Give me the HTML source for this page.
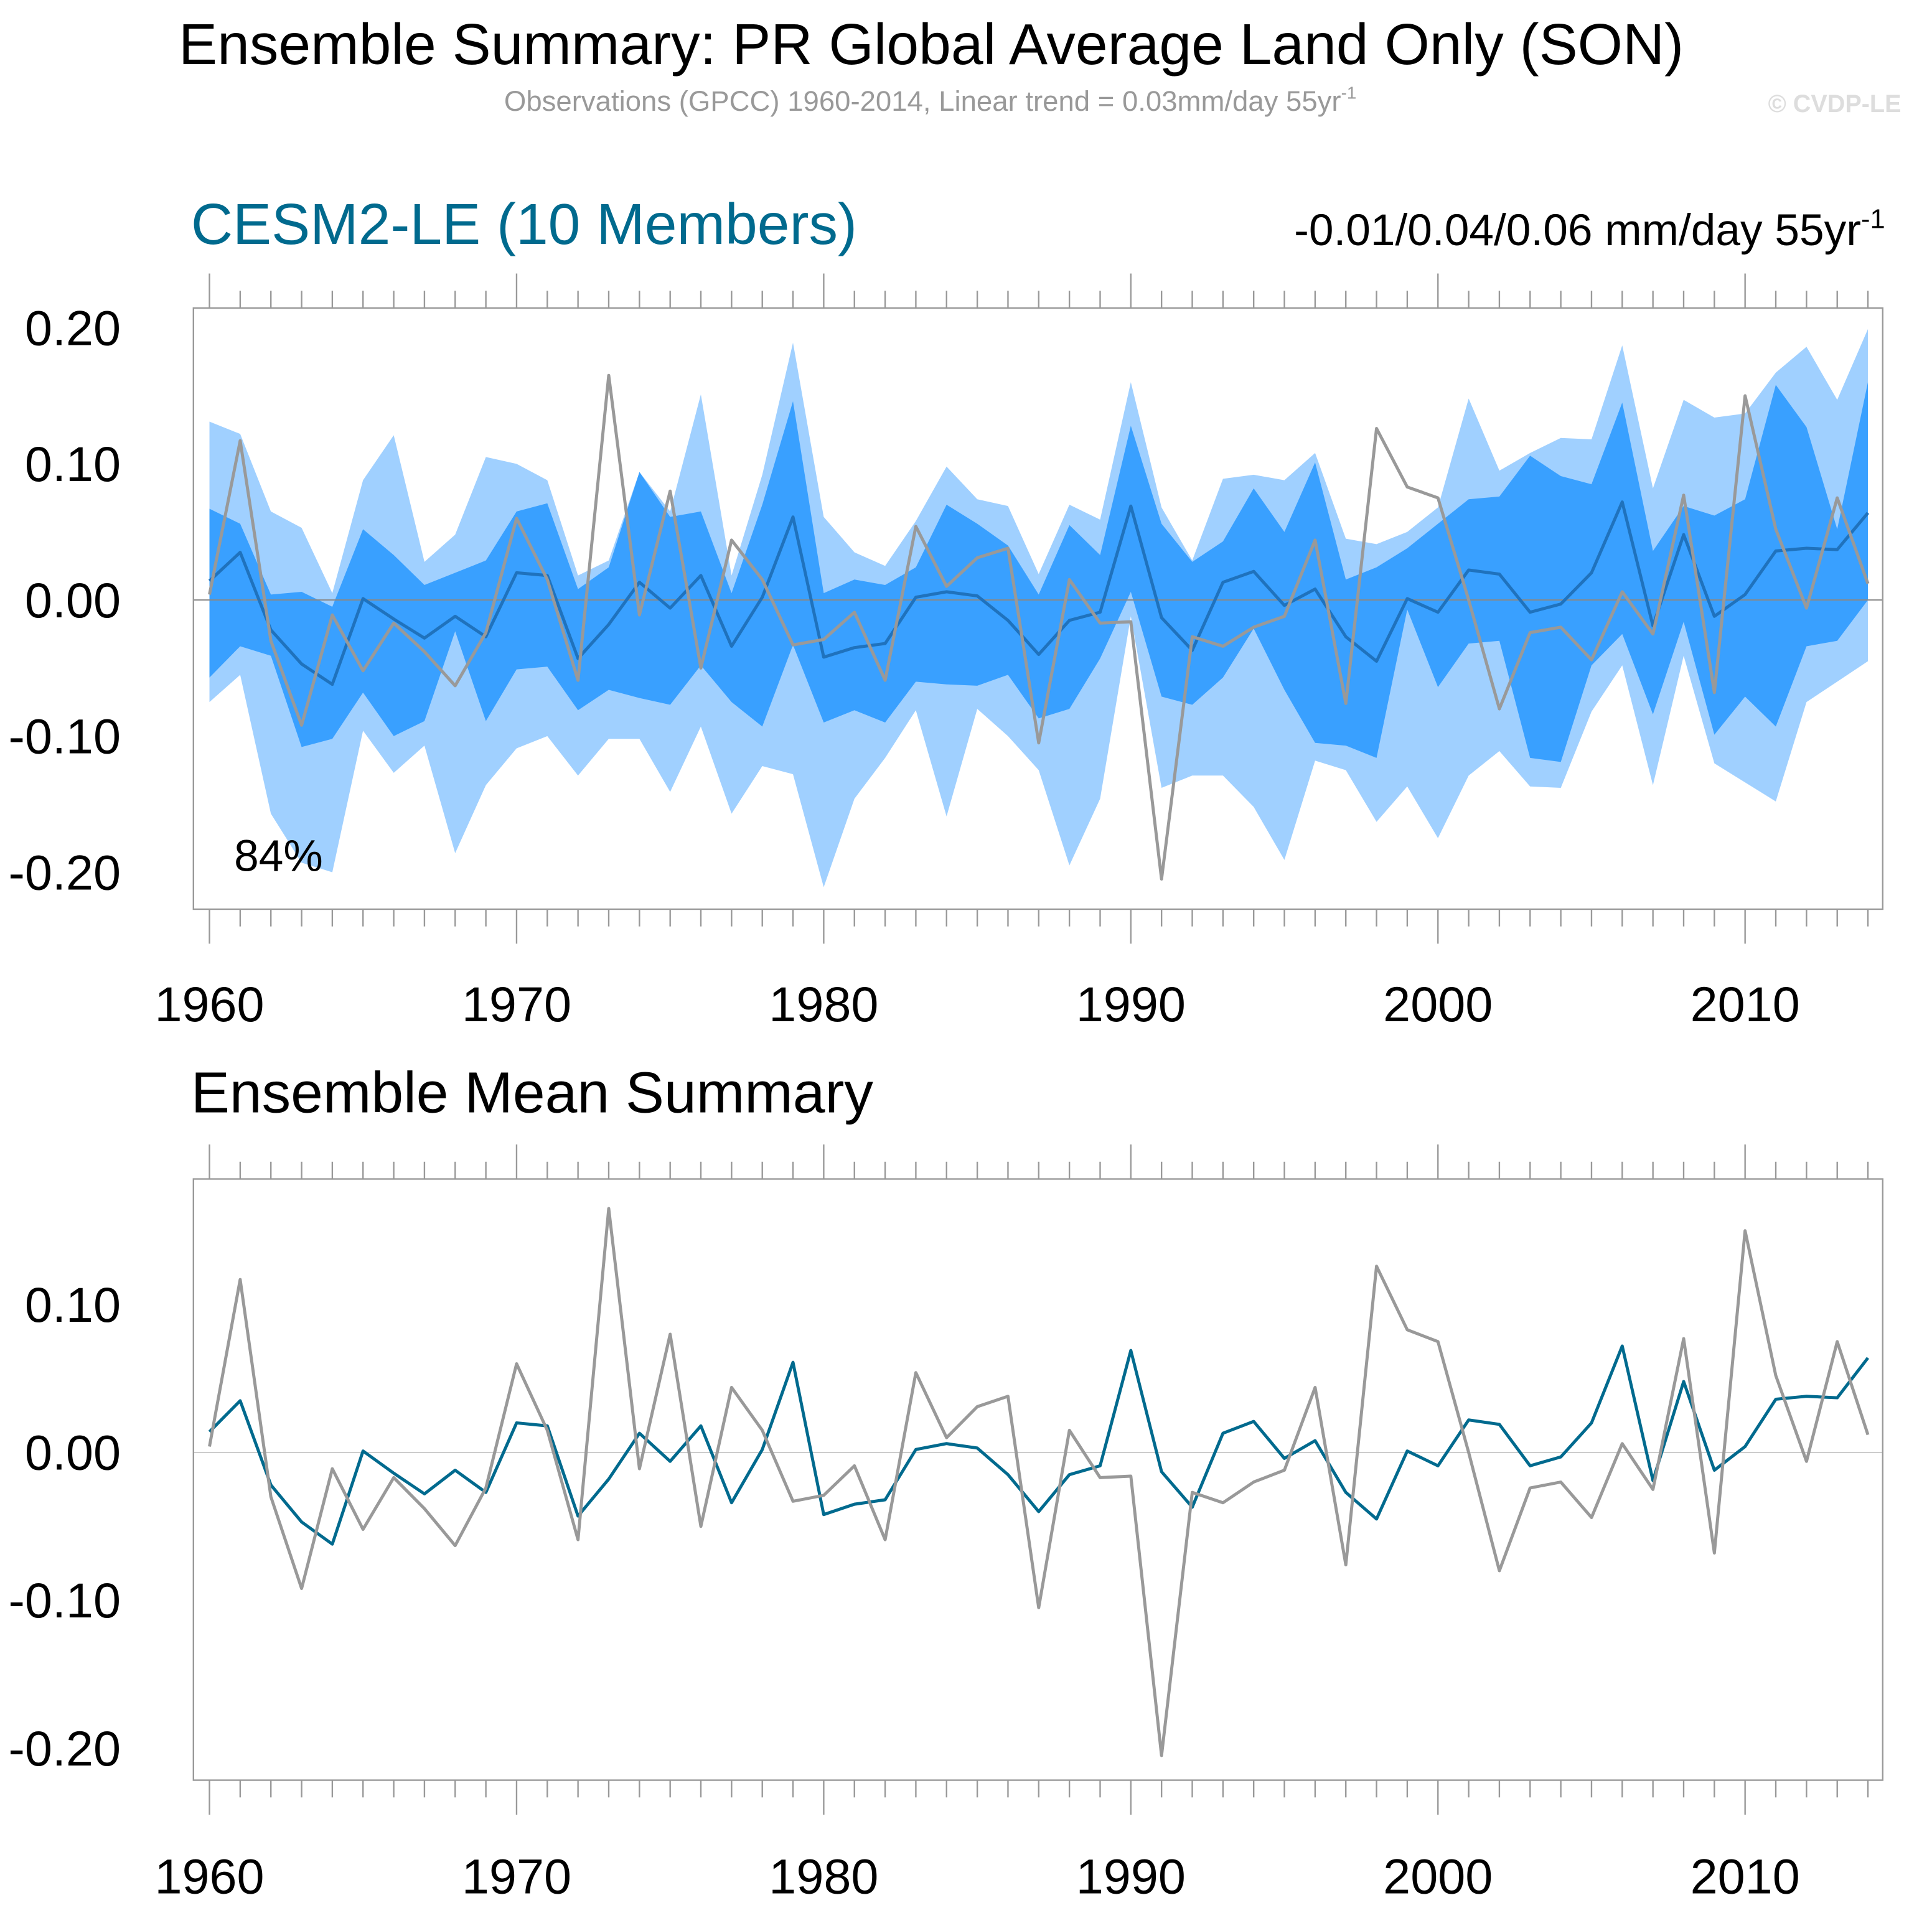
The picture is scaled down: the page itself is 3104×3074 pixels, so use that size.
<!DOCTYPE html>
<html><head><meta charset="utf-8"><style>
html,body{margin:0;padding:0;background:#fff}
svg{display:block}
text{font-family:"Liberation Sans",sans-serif}
</style></head><body>
<svg id="chart" xmlns="http://www.w3.org/2000/svg" width="3104" height="3074" viewBox="0 0 1568 1552.8">
<rect x="0" y="0" width="1568" height="1552.8" fill="#fff"/>
<text x="145" y="52" font-size="47" fill="#000">Ensemble Summary: PR Global Average Land Only (SON)</text>
<text x="755" y="90" font-size="23" fill="#999" text-anchor="middle">Observations (GPCC) 1960-2014, Linear trend = 0.03mm/day 55yr<tspan font-size="14" dy="-10">-1</tspan></text>
<text x="1543" y="91" font-size="20" font-weight="bold" fill="#ddd" text-anchor="end">© CVDP-LE</text>
<text x="155" y="198" font-size="47" fill="#006a8e">CESM2-LE (10 Members)</text>
<text x="1530" y="199" font-size="36" fill="#000" text-anchor="end">-0.01/0.04/0.06 mm/day 55yr<tspan font-size="22" dy="-14">-1</tspan></text>
<text x="155" y="903" font-size="47" fill="#000">Ensemble Mean Summary</text>
<g id="top"></g>
<g id="bot"></g>
</svg>
<script>
const years = []; for (let y = 1960; y <= 2014; y++) years.push(y);
const obs = [0.004,0.117,-0.03,-0.092,-0.011,-0.052,-0.017,-0.038,-0.063,-0.024,0.06,0.015,-0.059,0.165,-0.011,0.08,-0.05,0.044,0.015,-0.033,-0.029,-0.009,-0.059,0.054,0.01,0.031,0.038,-0.105,0.015,-0.017,-0.016,-0.205,-0.027,-0.034,-0.02,-0.012,0.044,-0.076,0.126,0.083,0.075,0.0,-0.08,-0.024,-0.02,-0.044,0.006,-0.025,0.077,-0.068,0.15,0.052,-0.006,0.075,0.012];
const ensMean = [0.014,0.035,-0.022,-0.047,-0.062,0.001,-0.014,-0.028,-0.012,-0.027,0.02,0.018,-0.043,-0.018,0.013,-0.006,0.018,-0.034,0.002,0.061,-0.042,-0.035,-0.032,0.002,0.006,0.003,-0.015,-0.04,-0.015,-0.009,0.069,-0.013,-0.037,0.013,0.021,-0.004,0.008,-0.027,-0.045,0.001,-0.009,0.022,0.019,-0.009,-0.003,0.02,0.072,-0.019,0.048,-0.012,0.004,0.036,0.038,0.037,0.064];
const lightUpper = [0.131,0.122,0.065,0.053,0.005,0.088,0.121,0.028,0.048,0.105,0.10,0.088,0.018,0.029,0.094,0.065,0.151,0.018,0.092,0.189,0.061,0.035,0.025,0.058,0.098,0.074,0.069,0.019,0.07,0.059,0.16,0.068,0.029,0.089,0.092,0.088,0.108,0.045,0.041,0.05,0.068,0.148,0.095,0.108,0.119,0.118,0.187,0.082,0.147,0.134,0.137,0.167,0.186,0.147,0.199];
const darkUpper = [0.067,0.056,0.004,0.006,-0.005,0.052,0.033,0.011,0.02,0.029,0.065,0.071,0.008,0.024,0.094,0.061,0.065,0.005,0.07,0.146,0.005,0.015,0.011,0.024,0.07,0.056,0.04,0.004,0.055,0.033,0.128,0.056,0.028,0.043,0.082,0.05,0.101,0.015,0.024,0.038,0.056,0.074,0.076,0.106,0.091,0.085,0.145,0.036,0.069,0.062,0.074,0.158,0.127,0.052,0.16];
const darkLower = [-0.057,-0.034,-0.041,-0.108,-0.102,-0.068,-0.1,-0.089,-0.023,-0.089,-0.051,-0.049,-0.081,-0.066,-0.072,-0.077,-0.048,-0.075,-0.093,-0.033,-0.09,-0.081,-0.09,-0.06,-0.062,-0.063,-0.055,-0.087,-0.08,-0.043,0.006,-0.071,-0.077,-0.057,-0.021,-0.066,-0.105,-0.107,-0.116,-0.007,-0.064,-0.032,-0.03,-0.116,-0.119,-0.048,-0.025,-0.084,-0.016,-0.099,-0.071,-0.093,-0.034,-0.03,0.0];
const lightLower = [-0.075,-0.055,-0.157,-0.193,-0.2,-0.096,-0.127,-0.107,-0.186,-0.136,-0.109,-0.1,-0.129,-0.102,-0.102,-0.141,-0.093,-0.157,-0.122,-0.128,-0.211,-0.146,-0.116,-0.081,-0.159,-0.08,-0.1,-0.125,-0.195,-0.146,-0.012,-0.138,-0.129,-0.129,-0.152,-0.191,-0.118,-0.125,-0.163,-0.137,-0.175,-0.129,-0.111,-0.137,-0.138,-0.082,-0.048,-0.136,-0.041,-0.12,-0.134,-0.148,-0.075,-0.06,-0.045];
const topYTicks = [0.2,0.1,0.0,-0.1,-0.2];
const topYLabels = ["0.20","0.10","0.00","-0.10","-0.20"];
const botYTicks = [0.1,0.0,-0.1,-0.2];
const botYLabels = ["0.10","0.00","-0.10","-0.20"];
const xTicks = [1960,1970,1980,1990,2000,2010];

const NS = "http://www.w3.org/2000/svg";
function mk(parent, tag, attrs) {
  const e = document.createElementNS(NS, tag);
  for (const k in attrs) e.setAttribute(k, attrs[k]);
  parent.appendChild(e); return e;
}
function panel(g, cfg) {
  const x = yr => 170 + (yr - 1960) * (1516 - 170) / 54;
  const y = v => cfg.y0 - v * cfg.k;
  const L = 157, R = 1528, T = cfg.top, B = cfg.bot;
  const vMin = (cfg.y0 - B) / -cfg.k, vMax = (cfg.y0 - T) / cfg.k;
  const ax = mk(g, 'g', {stroke: '#999', 'stroke-width': 1.2});
  
  
  years.forEach(yr => {
    const major = yr % 10 === 0, len = major ? 28 : 14;
    mk(ax, 'line', {x1: x(yr), x2: x(yr), y1: B, y2: B + len});
    mk(ax, 'line', {x1: x(yr), x2: x(yr), y1: T, y2: T - len});
  });
  for (let i = -30; i <= 30; i++) {
    const v = i * 0.02;
    if (v < vMin - 1e-9 || v > vMax + 1e-9) continue;
    const major = Math.abs(Math.round(v * 100) % 10) === 0;
    const len = major ? 29 : 15;
    mk(ax, 'line', {x1: L, x2: L - len, y1: y(v), y2: y(v)});
    mk(ax, 'line', {x1: R, x2: R + len, y1: y(v), y2: y(v)});
  }
  const P = arr => arr.map((v, i) => x(years[i]) + ',' + y(v));
  if (cfg.bands) {
    const lb = mk(g, 'polygon', {points: P(lightUpper).concat(P(lightLower).reverse()).join(' '), fill: '#a0d0ff'});
    
    
    const db = mk(g, 'polygon', {points: P(darkUpper).concat(P(darkLower).reverse()).join(' '), fill: '#39a0ff'});
    
    
  }
  const z = mk(g, 'line', {x1: L, x2: R, y1: y(0), y2: y(0), stroke: cfg.bands ? '#888' : '#ccc', 'stroke-width': 1});
  
  
  const fr = mk(g, 'rect', {x: L, y: T, width: R - L, height: B - T, fill: 'none', stroke: '#999', 'stroke-width': 1.2});
  
  
  const mline = mk(g, 'polyline', {points: P(ensMean).join(' '), fill: 'none', stroke: cfg.meanColor, 'stroke-width': 2.5, 'stroke-linejoin': 'round'});
  
  
  const oline = mk(g, 'polyline', {points: P(obs).join(' '), fill: 'none', stroke: '#999', 'stroke-width': 2.5, 'stroke-linejoin': 'round'});
  
  
  cfg.yTicks.forEach((v, i) => {
    const t = mk(g, 'text', {x: 98, y: y(v) + 14, 'font-size': 40, 'text-anchor': 'end', fill: '#000'});
    t.textContent = cfg.yLabels[i];
    
    
  });
  xTicks.forEach(yr => {
    const t = mk(g, 'text', {x: x(yr), y: cfg.xLabelY, 'font-size': 40, 'text-anchor': 'middle', fill: '#000'});
    t.textContent = yr;
    
    
  });
}
panel(document.getElementById('top'), {name: 'top-panel', top: 250, bot: 738, y0: 487, k: 1105, bands: true, meanColor: '#1f72bd', yTicks: topYTicks, yLabels: topYLabels, xLabelY: 829});
panel(document.getElementById('bot'), {name: 'bottom-panel', top: 957, bot: 1445, y0: 1179, k: 1200, bands: false, meanColor: '#006a8e', yTicks: botYTicks, yLabels: botYLabels, xLabelY: 1537});
const pct = mk(document.getElementById('top'), 'text', {x: 190, y: 707, 'font-size': 36, fill: '#000'});
pct.textContent = '84%';


</script>
</body></html>
